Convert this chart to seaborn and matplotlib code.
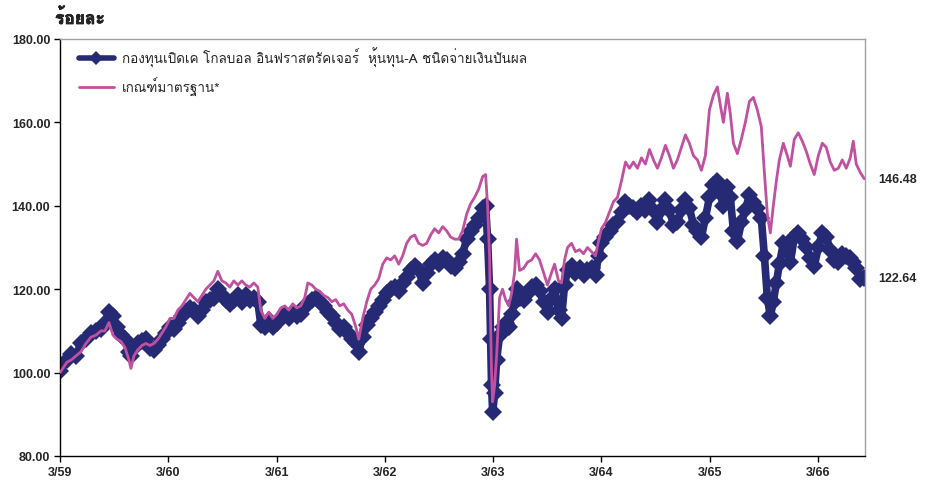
import matplotlib
matplotlib.use("Agg")
import matplotlib.pyplot as plt
from matplotlib import font_manager, patheffects
from matplotlib.ft2font import FT2Font
from matplotlib.lines import Line2D
import seaborn as sns
import pandas as pd

# ---------------- data ----------------
months = [0.0, 0.77, 1.22, 1.77, 2.32, 2.88, 3.43, 3.99, 4.54, 4.98,
          5.42, 5.87, 6.31, 6.75, 7.20, 7.64, 7.86, 8.19, 8.64, 9.08,
          9.52, 9.96, 10.41, 10.85, 11.29, 11.74, 12.18,
          12.62, 13.06, 13.51, 13.95, 14.39, 14.84, 15.28, 15.72, 16.16, 16.61,
          17.05, 17.49, 17.93, 18.38, 18.82, 19.26, 19.71, 20.15, 20.59, 21.03,
          21.48, 21.92, 22.25, 22.69, 23.14, 23.58,
          24.02, 24.47, 24.91, 25.35, 25.79, 26.24, 26.68, 27.12, 27.46, 27.90,
          28.34, 28.78, 29.23, 29.67, 30.11, 30.55, 31.00, 31.44, 31.88, 32.33,
          32.77, 33.10, 33.54, 33.99, 34.43, 34.87, 35.31, 35.76, 36.20, 36.64,
          37.09, 37.53, 37.97, 38.41, 38.86, 39.30, 39.74, 40.19, 40.63, 41.07,
          41.51, 41.96, 42.40, 42.84, 43.29, 43.73, 44.17, 44.61, 45.06, 45.50,
          45.94, 46.39, 46.83, 47.16, 47.38, 47.60, 47.71, 47.82, 47.94, 48.16,
          48.38, 48.71, 49.04, 49.37, 49.71, 50.04, 50.37, 50.59, 50.92, 51.37,
          51.81, 52.25, 52.70, 53.14, 53.58, 54.02, 54.47, 54.80, 55.24, 55.57,
          55.91, 56.24, 56.68, 57.12, 57.57, 58.01, 58.45, 58.90, 59.34, 59.67,
          60.00, 60.44, 60.89, 61.33, 61.77, 62.22, 62.66, 63.10, 63.54, 63.99,
          64.43, 64.87, 65.32, 65.76, 66.20, 66.64, 67.09, 67.53, 67.97, 68.41,
          68.86, 69.30, 69.74, 70.19, 70.63, 71.07, 71.51, 71.96, 72.40, 72.84,
          73.18, 73.51, 73.95, 74.28, 74.62, 75.06, 75.50, 75.94, 76.39, 76.83,
          77.27, 77.71, 78.05, 78.38, 78.71, 79.04, 79.38, 79.71, 80.15, 80.59,
          80.93, 81.37, 81.81, 82.25, 82.70, 83.14, 83.58, 84.02, 84.47, 84.91,
          85.35, 85.80, 86.24, 86.68, 87.12, 87.57, 87.90, 88.23, 88.67, 89.12]

fund = [100.5, 103, 104.5, 104, 107, 108, 109.5, 110, 110.5, 112,
        114.5, 113.5, 111, 109, 108, 105, 104, 106, 107, 107.5,
        108, 106, 105.5, 106.5, 108, 109.5, 111,
        110.5, 112, 113.5, 114.5, 115.5, 115, 113.5, 115, 117, 117.5,
        118, 120, 118.5, 117.5, 116.5, 117.5, 118.5, 117, 118.5, 117.5,
        118, 117, 111.5, 111, 112.5, 111,
        112, 113, 114, 113, 114.5, 113.5, 114, 116, 116.5, 117.5,
        118, 117, 116, 114.5, 113.5, 112, 110.5, 111, 109.5, 108,
        107, 105, 108.5, 111.5, 113, 114.5, 116, 117.5, 119, 120,
        120.5, 119.5, 121.5, 123, 124.5, 125.5, 124.5, 121.5, 124, 126,
        127, 126, 127.5, 127, 125.5, 125, 126.5, 128.5, 132, 134,
        135.5, 137, 139.5, 140, 132, 120, 108, 97, 90.5, 95,
        103, 109, 111, 112, 111, 114, 117, 120, 118, 117.5,
        119, 120.5, 121, 119.5, 117, 114.5, 118, 120, 115, 113,
        121, 124.5, 125.5, 124, 125, 123.5, 124.5, 125, 123.5, 128,
        131, 132.5, 134, 135.5, 136, 138.5, 141, 140, 139.5, 138.5,
        140, 139, 141.5, 139, 136, 139, 141.5, 139, 135.5, 136,
        139, 141.5, 139.5, 135.5, 134, 132.5, 137, 142, 145, 146,
        143, 140, 144.5, 142, 134, 131.5, 136, 139, 142.5, 141,
        139.5, 137, 128, 118, 113.5, 117, 121.5, 126, 131, 129,
        126.5, 132.5, 133.5, 132, 130, 127.5, 125.5, 130, 133.5, 132.5,
        129.5, 127, 126.5, 128.5, 128, 127.5, 126.5, 125, 122.5, 122.64]

benchmark = [100, 102.5, 103, 104, 105, 107, 108.5, 109, 110, 110,
             112, 109, 108, 107.5, 106, 103, 101, 104, 105.5, 106.5,
             107, 106.5, 107, 108, 109.5, 111, 113,
             113, 115, 116, 117.5, 119, 118, 117, 118.5, 120, 121,
             122, 124.3, 122, 121.5, 120.5, 122, 121, 122, 121, 120.5,
             121.5, 120.5, 115, 113, 114.5, 113,
             114, 115.5, 116, 115, 116.5, 115.5, 116, 118, 121.5, 121,
             120, 119.5, 118.5, 118, 117, 117.5, 116, 116.5, 115, 114,
             111, 108, 113, 117, 120, 121, 122.5, 126, 127.5, 127,
             128, 126, 128, 131, 132.5, 133, 131, 130.5, 131, 133,
             134.5, 133.5, 135, 134, 132.5, 132, 132, 134, 138, 140.5,
             142, 144, 147, 147.5, 140, 128, 112, 100, 93, 97,
             104, 118, 120, 117.5, 116, 119, 124, 132, 124.5, 125,
             126.5, 127, 128.5, 127, 124, 121, 124, 126, 122, 121.5,
             127, 130, 131, 129, 129.5, 128.5, 130, 129, 128, 131.5,
             134.5, 136, 138.5, 141, 142, 146, 150.5, 149, 150.5, 149,
             151.5, 150, 153.5, 151, 149, 151.5, 154.5, 152, 149, 151,
             154, 157, 155, 152, 151, 148.5, 152, 163, 166.5, 168.5,
             164, 160, 167, 162, 155, 152.5, 156, 160, 165, 166,
             163, 159, 148, 138, 133.5, 140, 146, 151, 155, 152,
             149.5, 156, 157.5, 155.5, 153, 150, 147.5, 152, 155, 154,
             150.5, 148.5, 149, 151, 149, 151.5, 155.5, 150, 148, 146.48]

tick_months = [0, 12, 24, 36, 48, 60, 72, 84]
tick_labels = ["3/59", "3/60", "3/61", "3/62", "3/63", "3/64", "3/65", "3/66"]
y_ticks = [80, 100, 120, 140, 160, 180]

fund_label = "กองทุนเปิดเค โกลบอล อินฟราสตรัคเจอร์  หุ้นทุน-A ชนิดจ่ายเงินปันผล"
bench_label = "เกณฑ์มาตรฐาน*"
y_title = "ร้อยละ"

# ---------------- fonts ----------------
def thai_families():
    found = []
    for f in font_manager.fontManager.ttflist:
        try:
            ft = FT2Font(f.fname)
            if ft.get_char_index(0x0E01) and f.name not in found:
                found.append(f.name)
        except Exception:
            pass
    return found

thai = thai_families()
pref = None
for key in ["Loma", "Noto Sans Thai", "Tahoma", "Garuda", "Sarabun", "Anuphan"]:
    for n in thai:
        if key in n:
            pref = n
            break
    if pref:
        break
if pref is None and thai:
    pref = thai[0]

sns.set_theme(style="white")
thai_fam = ([pref] if pref else []) + ["DejaVu Sans"]
plt.rcParams["font.family"] = thai_fam
num_font = dict(family=["Liberation Sans", "DejaVu Sans"], weight="bold", size=9)

navy = "#262A75"
pink = "#C050A0"

df = pd.DataFrame({"month": months, "fund": fund, "benchmark": benchmark})

fig = plt.figure(figsize=(9.33, 4.81), dpi=100)
ax = fig.add_axes([60 / 933, 1 - 457 / 481, (865 - 60) / 933, (457 - 40) / 481])

sns.lineplot(data=df, x="month", y="fund", ax=ax, color=navy, linewidth=5.5,
             marker="D", markersize=9, markeredgewidth=0, sort=False,
             estimator=None, legend=False, zorder=2)
sns.lineplot(data=df, x="month", y="benchmark", ax=ax, color=pink, linewidth=2.0,
             sort=False, estimator=None, legend=False, zorder=3)

ax.set_xlim(0, 89.2)
ax.set_ylim(80, 180)
ax.set_xticks(tick_months)
ax.set_xticklabels(tick_labels, fontdict=num_font)
ax.set_yticks(y_ticks)
ax.set_yticklabels([f"{v:.2f}" for v in y_ticks], fontdict=num_font)
ax.set_xlabel("")
ax.set_ylabel("")
ax.tick_params(axis="both", direction="out", length=4, width=1, color="black",
               left=True, bottom=True, pad=3)
for s in ["left", "bottom"]:
    ax.spines[s].set_color("black")
    ax.spines[s].set_linewidth(1.0)
for s in ["top", "right"]:
    ax.spines[s].set_color("#A0A0A0")
    ax.spines[s].set_linewidth(1.0)

h_fund = Line2D([0, 1, 2], [0, 0, 0], color=navy, lw=4, marker="D", markersize=7,
                markeredgewidth=0, markevery=[1])
h_bench = Line2D([], [], color=pink, lw=2.0)
ax.legend([h_fund, h_bench], [fund_label, bench_label], loc="upper left",
          bbox_to_anchor=(0.008, 1.01), frameon=False,
          handlelength=2.6, handletextpad=0.6, labelspacing=0.72,
          prop=dict(family=thai_fam, size=9.7))

ax.annotate(f"{fund[-1]:.2f}", xy=(months[-1], fund[-1]), xytext=(10, 0),
            textcoords="offset points", va="center", ha="left",
            annotation_clip=False, **num_font)
ax.annotate(f"{benchmark[-1]:.2f}", xy=(months[-1], benchmark[-1]), xytext=(10, 0),
            textcoords="offset points", va="center", ha="left",
            annotation_clip=False, **num_font)

fig.text(55 / 933, 1 - 25 / 481, y_title, ha="left", va="baseline",
         fontsize=12.5, fontweight="bold", family=thai_fam,
         path_effects=[patheffects.withStroke(linewidth=0.5, foreground="black")])

fig.savefig("out.png", dpi=100)
